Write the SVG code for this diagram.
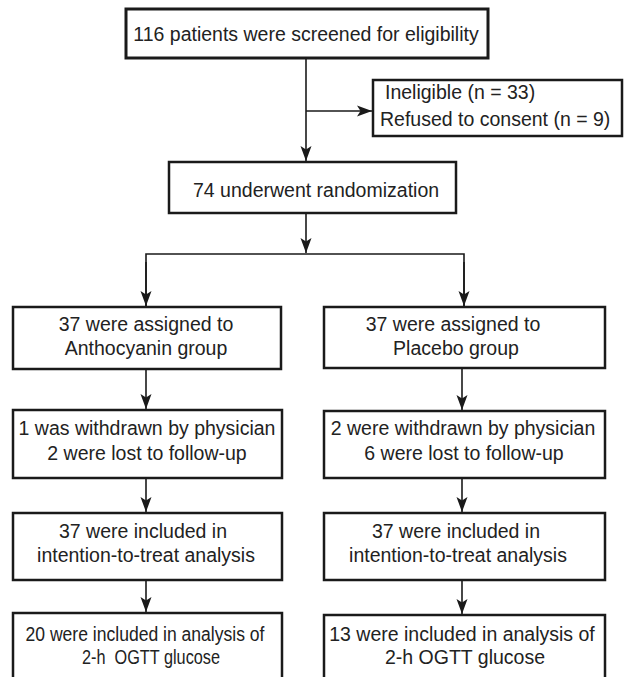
<svg xmlns="http://www.w3.org/2000/svg" width="627" height="677" viewBox="0 0 627 677">
<defs>
<marker id="ah" markerUnits="userSpaceOnUse" markerWidth="16" markerHeight="12" viewBox="0 0 16 12" refX="15" refY="6" orient="auto">
<path d="M0,0.5 L15,6 L0,11.5 L3.5,6 Z" fill="#1a1a1a"/>
</marker>
<style>
.box{fill:#fff;stroke:#1a1a1a;stroke-width:2.5}
.t{font-family:"Liberation Sans",Arial,sans-serif;font-size:19.5px;fill:#222}
.m{text-anchor:middle}
.c{fill:none;stroke:#1a1a1a;stroke-width:1.6}
</style>
</defs>
<rect width="627" height="677" fill="#fff"/>
<g id="connectors">
<line class="c" x1="306" y1="59" x2="306" y2="161" marker-end="url(#ah)"/>
<line class="c" x1="306" y1="111" x2="372" y2="111" marker-end="url(#ah)"/>
<line class="c" x1="306" y1="214" x2="306" y2="253" marker-end="url(#ah)"/>
<polyline class="c" points="146,306 146,254 464,254 464,306"/>
<line class="c" x1="146" y1="262" x2="146" y2="306" marker-end="url(#ah)"/>
<line class="c" x1="464" y1="262" x2="464" y2="306" marker-end="url(#ah)"/>
<line class="c" x1="146" y1="370" x2="146" y2="409" marker-end="url(#ah)"/>
<line class="c" x1="462" y1="369" x2="462" y2="410" marker-end="url(#ah)"/>
<line class="c" x1="146" y1="479" x2="146" y2="512" marker-end="url(#ah)"/>
<line class="c" x1="462" y1="479" x2="462" y2="512" marker-end="url(#ah)"/>
<line class="c" x1="146" y1="581" x2="146" y2="612" marker-end="url(#ah)"/>
<line class="c" x1="462" y1="581" x2="462" y2="614" marker-end="url(#ah)"/>
</g>
<g id="screened">
<rect class="box" x="126" y="9" width="362" height="49" style="stroke-width:3"/>
<text class="t m" x="306" y="41">116 patients were screened for eligibility</text>
</g>
<g id="excluded">
<rect class="box" x="373" y="80" width="249" height="56"/>
<text class="t" x="385" y="99">Ineligible (n = 33)</text>
<text class="t" x="380" y="126">Refused to consent (n = 9)</text>
</g>
<g id="randomized">
<rect class="box" x="169" y="162" width="287" height="51"/>
<text class="t" x="193" y="197">74 underwent randomization</text>
</g>
<g id="anthocyanin">
<rect class="box" x="13" y="307" width="268" height="62"/>
<text class="t m" x="146" y="331">37 were assigned to</text>
<text class="t m" x="146" y="355">Anthocyanin group</text>
</g>
<g id="placebo">
<rect class="box" x="324" y="307" width="281" height="61"/>
<text class="t m" x="453" y="331">37 were assigned to</text>
<text class="t m" x="456" y="355">Placebo group</text>
</g>
<g id="left-withdrawn">
<rect class="box" x="13" y="410" width="269" height="68"/>
<text class="t m" x="147" y="435">1 was withdrawn by physician</text>
<text class="t m" x="147" y="460">2 were lost to follow-up</text>
</g>
<g id="right-withdrawn">
<rect class="box" x="324" y="411" width="281" height="67"/>
<text class="t m" x="463" y="435">2 were withdrawn by physician</text>
<text class="t m" x="464" y="460">6 were lost to follow-up</text>
</g>
<g id="left-itt">
<rect class="box" x="13" y="513" width="269" height="67"/>
<text class="t m" x="143" y="538">37 were included in</text>
<text class="t m" x="146" y="562">intention-to-treat analysis</text>
</g>
<g id="right-itt">
<rect class="box" x="324" y="513" width="281" height="67"/>
<text class="t m" x="456" y="538">37 were included in</text>
<text class="t m" x="458" y="562">intention-to-treat analysis</text>
</g>
<g id="left-ogtt">
<rect class="box" x="13" y="613" width="269" height="80"/>
<text class="t m" x="145" y="641" textLength="239" lengthAdjust="spacingAndGlyphs">20 were included in analysis of</text>
<text class="t m" x="151" y="664" textLength="138" lengthAdjust="spacingAndGlyphs" style="white-space:pre">2-h  OGTT glucose</text>
</g>
<g id="right-ogtt">
<rect class="box" x="324" y="615" width="281" height="80"/>
<text class="t m" x="462" y="641">13 were included in analysis of</text>
<text class="t m" x="465" y="664">2-h OGTT glucose</text>
</g>
</svg>
